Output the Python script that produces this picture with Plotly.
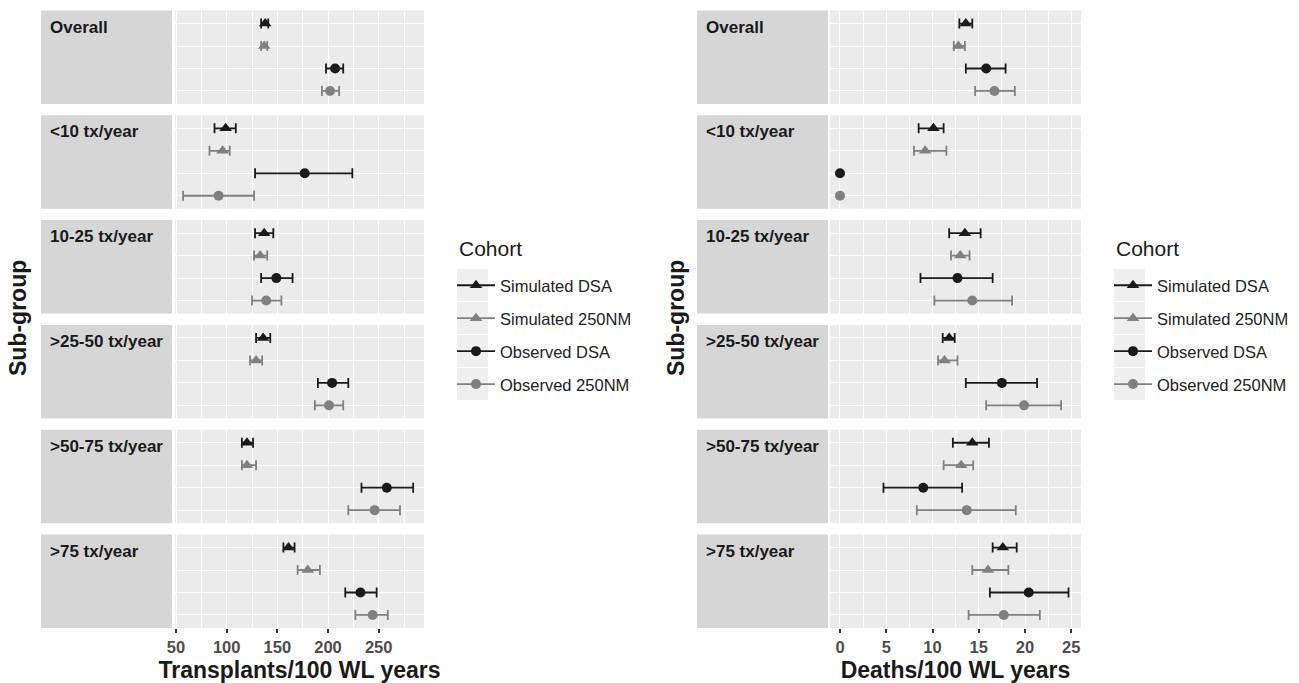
import plotly.graph_objects as go

# ---------------- data ----------------
groups = ["Overall", "<10 tx/year", "10-25 tx/year", ">25-50 tx/year",
          ">50-75 tx/year", ">75 tx/year"]
cohorts = ["Simulated DSA", "Simulated 250NM", "Observed DSA", "Observed 250NM"]

# Transplants / 100 WL years
sim_dsa_tx = [138, 99, 137, 136, 120, 161]
sim_dsa_tx_lo = [134, 88, 128, 129, 115, 156]
sim_dsa_tx_hi = [141, 109, 146, 143, 126, 167]

sim_250_tx = [137, 96, 133, 129, 120, 180]
sim_250_tx_lo = [134, 83, 127, 123, 115, 170]
sim_250_tx_hi = [140, 103, 140, 135, 129, 192]

obs_dsa_tx = [207, 177, 149, 204, 258, 232]
obs_dsa_tx_lo = [198, 128, 134, 190, 233, 217]
obs_dsa_tx_hi = [215, 224, 165, 220, 284, 248]

obs_250_tx = [202, 92, 139, 201, 246, 244]
obs_250_tx_lo = [194, 57, 125, 187, 220, 227]
obs_250_tx_hi = [211, 127, 154, 215, 271, 259]

# Deaths / 100 WL years
sim_dsa_d = [13.6, 10.1, 13.5, 11.8, 14.3, 17.6]
sim_dsa_d_lo = [12.9, 8.5, 11.8, 11.1, 12.2, 16.5]
sim_dsa_d_hi = [14.3, 11.2, 15.2, 12.4, 16.1, 19.1]

sim_250_d = [12.8, 9.2, 13.0, 11.3, 13.1, 16.0]
sim_250_d_lo = [12.3, 8.0, 12.0, 10.6, 11.2, 14.3]
sim_250_d_hi = [13.5, 11.5, 14.0, 12.7, 14.4, 18.2]

obs_dsa_d = [15.8, 0, 12.7, 17.5, 9.0, 20.4]
obs_dsa_d_lo = [13.6, 0, 8.7, 13.6, 4.7, 16.2]
obs_dsa_d_hi = [17.9, 0, 16.5, 21.3, 13.2, 24.7]

obs_250_d = [16.7, 0, 14.3, 19.9, 13.7, 17.7]
obs_250_d_lo = [14.6, 0, 10.2, 15.8, 8.3, 13.9]
obs_250_d_hi = [18.9, 0, 18.6, 23.9, 19.0, 21.6]

tx_ticks = [50, 100, 150, 200, 250]
d_ticks = [0, 5, 10, 15, 20, 25]

# ---------------- styling ----------------
W, H = 1299, 683
FONT = "Liberation Sans, Arial, sans-serif"
cohort_color = ["#1a1a1a", "#808080", "#1a1a1a", "#808080"]
cohort_symbol = ["triangle-up", "triangle-up", "circle", "circle"]
cohort_size = [11, 11, 10, 10]

panels = [
    dict(series=[(sim_dsa_tx, sim_dsa_tx_lo, sim_dsa_tx_hi),
                 (sim_250_tx, sim_250_tx_lo, sim_250_tx_hi),
                 (obs_dsa_tx, obs_dsa_tx_lo, obs_dsa_tx_hi),
                 (obs_250_tx, obs_250_tx_lo, obs_250_tx_hi)],
         ticks=tx_ticks, minor=25, rng=[49, 294.7],
         data_px=(175, 424), strip_px=(41, 172),
         title="Transplants/100 WL years", ytitle_px=18,
         legend="legend", key_px=457),
    dict(series=[(sim_dsa_d, sim_dsa_d_lo, sim_dsa_d_hi),
                 (sim_250_d, sim_250_d_lo, sim_250_d_hi),
                 (obs_dsa_d, obs_dsa_d_lo, obs_dsa_d_hi),
                 (obs_250_d, obs_250_d_lo, obs_250_d_hi)],
         ticks=d_ticks, minor=2.5, rng=[-1.08, 26.05],
         data_px=(830, 1081), strip_px=(697, 828),
         title="Deaths/100 WL years", ytitle_px=676,
         legend="legend2", key_px=1114),
]

facet_top = [10.5 + i * 104.8 for i in range(6)]
facet_h = 93.5
key_top, key_h = 268, 33

fig = go.Figure()
layout = dict(shapes=[], annotations=[])

for p, panel in enumerate(panels):
    for i, g in enumerate(groups):
        idx = p * 6 + i + 1
        xa = "x" if idx == 1 else f"x{idx}"
        ya = "y" if idx == 1 else f"y{idx}"
        xname = "xaxis" if idx == 1 else f"xaxis{idx}"
        yname = "yaxis" if idx == 1 else f"yaxis{idx}"
        top, bot = facet_top[i], facet_top[i] + facet_h
        bottom_row = i == len(groups) - 1

        layout[xname] = dict(
            domain=[panel["data_px"][0] / W, panel["data_px"][1] / W],
            anchor=ya, range=panel["rng"], showgrid=True, gridcolor="white",
            gridwidth=1.4, zeroline=False, showline=False, automargin=False,
            tickmode="array", tickvals=panel["ticks"],
            showticklabels=bottom_row, ticks="outside" if bottom_row else "",
            ticklen=4, tickwidth=1.5, tickcolor="#333333",
            tickfont=dict(family=FONT, size=16.5, color="#4d4d4d", weight="bold"),
            minor=dict(showgrid=True, gridcolor="white", gridwidth=0.7,
                       tick0=0, dtick=panel["minor"]),
            fixedrange=True,
        )
        if bottom_row:
            layout[xname]["title"] = dict(
                text=panel["title"], standoff=7,
                font=dict(family=FONT, size=23, color="#1a1a1a", weight="bold"))
        layout[yname] = dict(
            domain=[1 - bot / H, 1 - top / H], anchor=xa, automargin=False,
            type="category", categoryorder="array",
            categoryarray=cohorts[::-1], range=[-0.58, 3.58],
            showgrid=True, gridcolor="white", gridwidth=1.4,
            showticklabels=False, ticks="", zeroline=False, fixedrange=True,
        )
        # strip
        layout["shapes"].append(dict(
            type="rect", xref="paper", yref="paper", layer="below",
            x0=panel["strip_px"][0] / W, x1=panel["strip_px"][1] / W,
            y0=1 - bot / H, y1=1 - top / H,
            fillcolor="#d6d6d6", line=dict(width=0)))
        layout["annotations"].append(dict(
            text=g, xref="paper", yref="paper", showarrow=False,
            x=(panel["strip_px"][0] + 7) / W, y=1 - (top + 5) / H,
            xanchor="left", yanchor="top",
            font=dict(family=FONT, size=17, color="#1a1a1a", weight="bold")))

        for k, c in enumerate(cohorts):
            est, lo, hi = (s[i] for s in panel["series"][k])
            has_err = hi > lo
            fig.add_trace(go.Scatter(
                x=[est], y=[c], xaxis=xa, yaxis=ya, mode="markers",
                marker=dict(symbol=cohort_symbol[k], size=cohort_size[k],
                            color=cohort_color[k], line=dict(width=0)),
                error_x=dict(type="data", symmetric=False,
                             array=[hi - est], arrayminus=[est - lo],
                             visible=bool(has_err), color=cohort_color[k],
                             thickness=1.8, width=5),
                showlegend=False, hoverinfo="x+y+name", name=c,
            ))

    # legend entries
    for k, c in enumerate(cohorts):
        fig.add_trace(go.Scatter(
            x=[None], y=[None], mode="lines+markers", name=c,
            legend=panel["legend"], legendgroup=f"{p}-{k}",
            line=dict(color=cohort_color[k], width=1.8),
            marker=dict(symbol=cohort_symbol[k], size=cohort_size[k],
                        color=cohort_color[k]),
            xaxis="x" if p == 0 else "x7", yaxis="y" if p == 0 else "y7",
            showlegend=True,
        ))
        # grey key background
        layout["shapes"].append(dict(
            type="rect", xref="paper", yref="paper", layer="below",
            x0=panel["key_px"] / W, x1=(panel["key_px"] + 31) / W,
            y0=1 - (key_top + (k + 1) * key_h) / H,
            y1=1 - (key_top + k * key_h + 1) / H,
            fillcolor="#efefef", line=dict(width=0)))
    layout[panel["legend"]] = dict(
        x=(panel["key_px"] - 5) / W, y=1 - (key_top + 0) / H,
        xanchor="left", yanchor="top",
        bgcolor="rgba(0,0,0,0)", itemwidth=38, tracegroupgap=8.5,
        font=dict(family=FONT, size=16.5, color="#222222"),
    )
    layout["annotations"].append(dict(
        text="Cohort", xref="paper", yref="paper", showarrow=False,
        x=panel["key_px"] / W, y=1 - 249 / H, xanchor="left", yanchor="middle",
        font=dict(family=FONT, size=21, color="#1a1a1a")))
    layout["annotations"].append(dict(
        text="Sub-group", xref="paper", yref="paper", showarrow=False,
        x=panel["ytitle_px"] / W, y=1 - 318 / H, textangle=-90,
        xanchor="center", yanchor="middle",
        font=dict(family=FONT, size=23, color="#1a1a1a", weight="bold")))

fig.update_layout(
    width=W, height=H, margin=dict(l=0, r=0, t=0, b=0, autoexpand=False),
    paper_bgcolor="white", plot_bgcolor="#ebebeb",
    font=dict(family=FONT), **layout,
)

fig.write_html(
    "out.html",
    config={"displayModeBar": False},
    post_script="document.body.style.margin='0';"
                "document.body.style.overflow='hidden';",
)
